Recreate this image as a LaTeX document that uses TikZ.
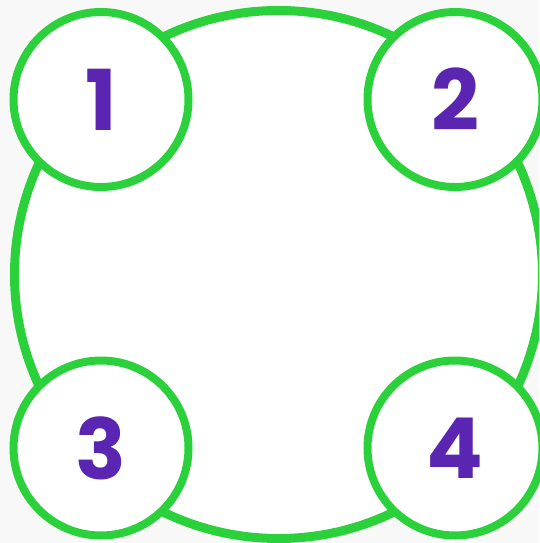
\documentclass[tikz,border=0pt]{standalone}
\usepackage{fontspec}
\setmainfont{Poppins}
\definecolor{ringgreen}{RGB}{43,209,59}
\definecolor{numpurple}{RGB}{90,37,176}
\definecolor{bggray}{RGB}{248,248,248}
\tikzset{
  ring/.style={circle, draw=ringgreen, fill=white, line width=8pt, inner sep=0pt, outer sep=0pt, minimum size=175pt,
    font=\fontsize{84}{84}\selectfont\bfseries, text=numpurple},
  bigring/.style={circle, draw=ringgreen, fill=white, line width=9pt, inner sep=0pt, outer sep=0pt, minimum size=528pt}
}
\begin{document}
\begin{tikzpicture}[x=1pt,y=-1pt]
\fill[bggray] (0,0) rectangle (539,543);
\useasboundingbox (0,0) rectangle (539,543);
\begin{scope}
\clip (0,0) rectangle (539,543);
\node[bigring] (big) at (278.5,274.5) {};
\end{scope}
\node[ring] (n1) at (101,99.5) {1};
\node[ring] (n2) at (455,99.5) {2};
\node[ring] (n3) at (101,448) {3};
\node[ring] (n4) at (455,448) {4};
\end{tikzpicture}
\end{document}
